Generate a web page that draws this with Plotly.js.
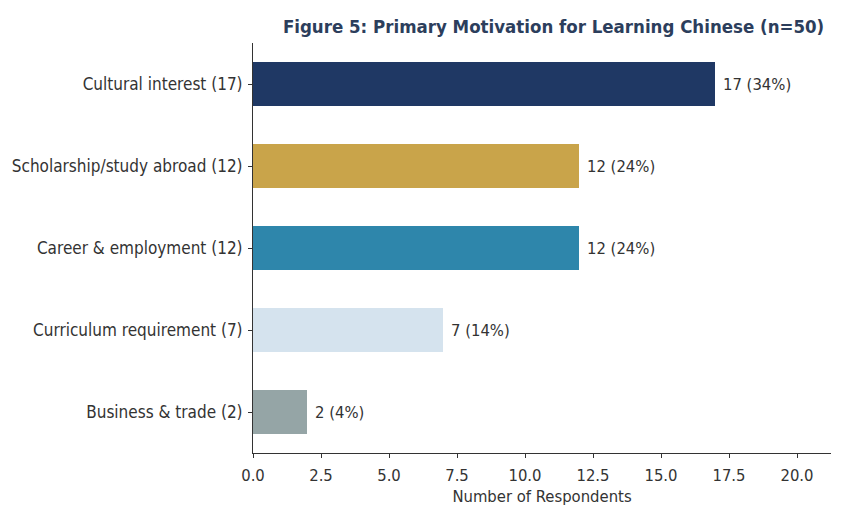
<!DOCTYPE html>
<html>
<head>
<meta charset="utf-8">
<script src="https://cdn.plot.ly/plotly-3.0.1.min.js"></script>
<style>html,body{margin:0;padding:0;background:#fff;}#chart{width:847px;height:508px;}</style>
</head>
<body>
<div id="chart"></div>
<script>
const motivations = ["Cultural interest", "Scholarship/study abroad", "Career & employment", "Curriculum requirement", "Business & trade"];
const counts = [17, 12, 12, 7, 2];
const totalRespondents = 50;
const barColors = ["#1f3864", "#c9a44a", "#2e86ab", "#d5e3ee", "#95a5a6"];
const xTicks = [0, 2.5, 5, 7.5, 10, 12.5, 15, 17.5, 20];

const yLabels = motivations.map((m, i) => m + " (" + counts[i] + ")");
const barText = counts.map(c => c + " (" + Math.round(c / totalRespondents * 100) + "%)");
const FONT = "'DejaVu Sans Condensed', 'DejaVu Sans', sans-serif";
const FS = 16.5;

const trace = {
  type: "bar",
  orientation: "h",
  x: counts,
  y: yLabels,
  width: 0.53,
  marker: {color: barColors, line: {width: 0}},
  hoverinfo: "none"
};

const annotations = counts.map((c, i) => ({
  x: c, y: yLabels[i], xref: "x", yref: "y",
  text: barText[i], showarrow: false,
  xanchor: "left", yanchor: "middle", xshift: 6,
  font: {family: FONT, size: FS, color: "#333"}
}));

const layout = {
  width: 847, height: 508,
  margin: {l: 253, r: 16, t: 43, b: 55},
  paper_bgcolor: "#fff", plot_bgcolor: "#fff",
  font: {family: FONT, size: FS, color: "#333"},
  showlegend: false,
  annotations: annotations,
  title: {
    text: "<b>Figure 5: Primary Motivation for Learning Chinese (n=50)</b>",
    font: {family: FONT, size: 18.5, color: "#2c3e5c"},
    x: 0.52, xanchor: "center", xref: "paper",
    y: 0.947, yanchor: "middle", yref: "container"
  },
  xaxis: {
    range: [0, Math.max(...counts) * 1.25],
    tickvals: xTicks,
    ticktext: xTicks.map(v => v.toFixed(1)),
    ticks: "outside", ticklen: 4, tickwidth: 1, tickcolor: "#333",
    showline: true, linecolor: "#333", linewidth: 1,
    showgrid: false, zeroline: false,
    tickfont: {family: FONT, size: FS, color: "#333"},
    ticklabelstandoff: 3,
    title: {text: "Number of Respondents", font: {family: FONT, size: FS, color: "#333"}, standoff: 6}
  },
  yaxis: {
    autorange: false,
    range: [4.5, -0.5],
    type: "category",
    ticks: "outside", ticklen: 4, tickwidth: 1, tickcolor: "#333",
    showline: true, linecolor: "#333", linewidth: 1,
    showgrid: false, zeroline: false,
    tickfont: {family: FONT, size: 17, color: "#333"},
    ticklabelstandoff: 2
  },
  bargap: 0
};

Plotly.newPlot("chart", [trace], layout, {displayModeBar: false, staticPlot: true});
</script>
</body>
</html>
